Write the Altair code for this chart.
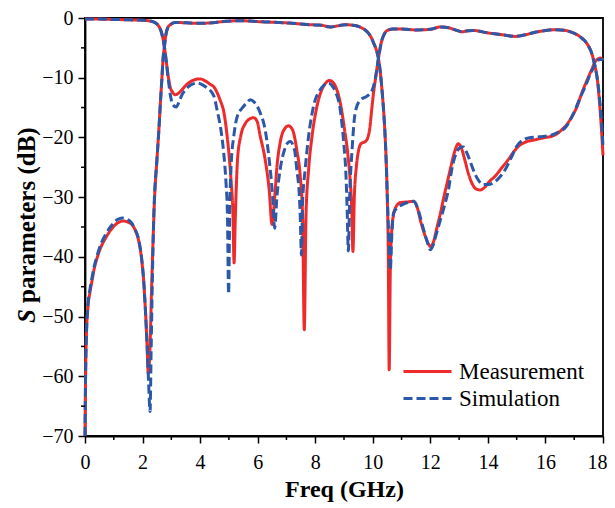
import altair as alt
import pandas as pd

# ---------------- data ----------------
# Measured S11
m11_f = [0.0, 0.5, 1.0, 1.5, 2.0, 2.25, 2.4, 2.5, 2.58, 2.65, 2.71, 2.77, 2.83, 2.9, 2.97, 3.05,
         3.14, 3.25, 3.37, 3.5, 3.65, 3.8, 4.0, 4.2, 4.35, 4.49, 4.6, 4.7, 4.83, 4.94, 5.02, 5.09,
         5.14, 5.18, 5.22, 5.26, 5.3, 5.41, 5.58, 5.72, 5.86, 5.98, 6.09, 6.26, 6.4, 6.5, 6.6,
         6.67, 6.78, 6.96, 7.07, 7.21, 7.36, 7.48, 7.56, 7.62, 7.68, 7.77, 7.89, 8.06, 8.23, 8.38,
         8.49, 8.6, 8.7, 8.87, 9.02, 9.14, 9.22, 9.27, 9.31, 9.36, 9.43, 9.51, 9.6, 9.74, 9.83,
         9.9, 9.96, 10.02, 10.09, 10.19, 10.29, 10.39, 10.5, 10.7, 11.0, 11.5, 12.0, 12.35, 12.6,
         13.0, 13.1, 13.3, 13.5, 14.0, 14.5, 14.95, 15.3, 15.64, 16.0, 16.33, 16.7, 16.92, 17.1,
         17.26, 17.4, 17.5, 17.6, 17.67, 17.74, 17.79, 17.85, 17.9, 17.95, 18.0]
m11_db = [-0.15, -0.18, -0.25, -0.3, -0.38, -0.5, -0.7, -1.0, -1.5, -2.3, -3.5, -5.2, -7.5, -10.0,
          -11.7, -12.5, -12.85, -12.6, -12.0, -11.3, -10.7, -10.35, -10.2, -10.6, -11.1, -11.6,
          -12.6, -13.8, -15.9, -19.8, -23.7, -28.2, -32.5, -41.0, -34.0, -28.0, -23.7, -19.8,
          -17.6, -16.9, -16.7, -17.3, -19.8, -23.7, -28.8, -34.6, -29.5, -24.9, -20.9, -18.4,
          -18.05, -18.7, -22.1, -26.5, -33.0, -52.2, -33.0, -25.4, -19.8, -14.8, -12.0, -10.8,
          -10.45, -10.7, -11.4, -14.2, -18.7, -23.1, -27.6, -32.1, -39.1, -29.9, -24.9, -22.1,
          -21.0, -20.7, -20.0, -18.3, -15.5, -12.8, -10.3, -7.0, -4.2, -2.8, -2.1, -1.85, -1.85,
          -2.0, -1.9, -1.5, -1.6, -2.2, -2.3, -2.15, -2.1, -2.5, -2.8, -3.08, -2.8, -2.4, -2.1,
          -1.96, -2.1, -2.41, -2.8, -3.36, -4.0, -4.75, -5.8, -7.0, -8.5, -9.8, -12.5, -15.4,
          -19.0, -23.0]

# Simulated S11
s11_f = [0.0, 0.5, 1.0, 1.5, 2.0, 2.25, 2.4, 2.5, 2.58, 2.65, 2.71, 2.77, 2.83, 2.9, 2.97, 3.05,
         3.17, 3.27, 3.37, 3.5, 3.6, 3.78, 3.9, 4.05, 4.24, 4.38, 4.48, 4.59, 4.74, 4.82, 4.9,
         4.95, 4.99, 5.03, 5.08, 5.17, 5.29, 5.46, 5.6, 5.75, 5.91, 6.09, 6.26, 6.4, 6.52, 6.59,
         6.67, 6.78, 6.93, 7.03, 7.13, 7.28, 7.36, 7.45, 7.48, 7.52, 7.56, 7.65, 7.77, 7.94, 8.17,
         8.32, 8.46, 8.58, 8.7, 8.87, 8.99, 9.07, 9.11, 9.15, 9.2, 9.28, 9.39, 9.57, 9.8, 9.97,
         10.09, 10.19, 10.29, 10.39, 10.5, 10.7, 11.0, 11.5, 12.0, 12.35, 12.6, 13.0, 13.1, 13.3,
         13.5, 14.0, 14.5, 14.95, 15.3, 15.64, 16.0, 16.33, 16.7, 16.92, 17.1, 17.26, 17.4, 17.5,
         17.6, 17.67, 17.74, 17.79, 17.85, 17.9, 17.95, 18.0]
s11_db = [-0.15, -0.18, -0.25, -0.3, -0.38, -0.5, -0.7, -1.0, -1.5, -2.3, -3.5, -5.2, -7.5, -10.5,
          -13.0, -14.5, -14.9, -14.0, -12.85, -12.0, -11.5, -11.0, -10.9, -11.1, -11.7, -12.3,
          -13.1, -15.4, -19.3, -22.6, -27.6, -33.0, -46.2, -32.0, -24.5, -19.8, -16.5, -15.1,
          -14.3, -13.7, -14.25, -15.9, -18.7, -23.7, -29.9, -35.2, -29.9, -25.4, -22.1, -21.0,
          -20.7, -22.1, -25.4, -29.9, -33.2, -39.7, -31.0, -25.4, -19.8, -14.8, -12.0, -11.2,
          -10.9, -11.3, -12.3, -15.4, -20.9, -26.5, -32.1, -39.0, -29.5, -22.1, -15.8, -13.7,
          -13.1, -12.2, -10.1, -7.0, -4.2, -2.8, -2.1, -1.85, -1.85, -2.0, -1.9, -1.5, -1.6,
          -2.2, -2.3, -2.15, -2.1, -2.5, -2.8, -3.08, -2.8, -2.4, -2.1, -1.96, -2.1, -2.41, -2.8,
          -3.36, -4.0, -4.75, -5.8, -7.0, -8.5, -9.8, -12.0, -14.5, -17.5, -21.5]

# Measured S21
m21_f = [0.0, 0.02, 0.05, 0.1, 0.17, 0.24, 0.32, 0.42, 0.55, 0.71, 0.88, 1.06, 1.2, 1.34, 1.5,
         1.63, 1.76, 1.87, 1.97, 2.04, 2.1, 2.15, 2.2, 2.26, 2.31, 2.36, 2.41, 2.5, 2.57, 2.62,
         2.67, 2.71, 2.76, 2.8, 2.89, 3.0, 3.14, 3.5, 3.9, 4.3, 4.88, 5.3, 5.69, 6.0, 6.5, 7.07,
         7.5, 7.8, 8.2, 8.52, 8.8, 9.04, 9.3, 9.5, 9.63, 9.76, 9.86, 9.95, 10.03, 10.12, 10.19,
         10.26, 10.33, 10.39, 10.44, 10.5, 10.54, 10.57, 10.61, 10.66, 10.72, 10.78, 10.96, 11.2,
         11.42, 11.55, 11.65, 11.8, 11.92, 12.02, 12.12, 12.22, 12.35, 12.47, 12.6, 12.72, 12.85,
         12.97, 13.08, 13.2, 13.32, 13.45, 13.58, 13.73, 13.9, 14.05, 14.25, 14.48, 14.71, 14.9,
         15.06, 15.3, 15.64, 16.0, 16.22, 16.4, 16.57, 16.75, 16.92, 17.1, 17.26, 17.43, 17.6,
         17.72, 17.81, 17.9, 18.0]
m21_db = [-70.0, -60.0, -53.0, -48.5, -46.0, -44.1, -42.0, -40.2, -38.4, -36.9, -35.6, -34.6,
          -34.15, -34.0, -34.2, -34.6, -35.7, -37.4, -40.5, -44.1, -49.0, -54.0, -59.5, -55.0,
          -46.0, -38.0, -31.0, -23.7, -18.5, -14.2, -10.3, -7.0, -4.8, -3.1, -1.5, -1.0, -0.75,
          -0.8, -0.9, -0.84, -0.56, -0.45, -0.5, -0.6, -0.7, -0.84, -1.0, -1.12, -1.2, -1.5,
          -1.3, -1.12, -1.2, -1.4, -1.7, -2.1, -2.6, -3.3, -4.2, -5.3, -6.6, -9.0, -12.6, -16.5,
          -20.9, -29.3, -40.0, -58.9, -42.0, -35.5, -33.0, -31.9, -30.9, -30.8, -30.7, -31.8,
          -33.8, -36.2, -37.7, -38.3, -37.3, -35.3, -32.7, -30.0, -27.3, -24.8, -22.3, -21.07,
          -21.8, -23.8, -26.0, -27.7, -28.6, -28.8, -28.3, -27.4, -26.5, -25.1, -23.7, -22.4,
          -21.5, -20.8, -20.4, -20.0, -19.8, -19.4, -18.7, -17.8, -16.5, -14.8, -12.6, -10.6,
          -8.7, -7.4, -6.9, -6.7, -7.0]

# Simulated S21
s21_f = [0.0, 0.02, 0.05, 0.1, 0.17, 0.24, 0.32, 0.42, 0.55, 0.71, 0.88, 1.06, 1.2, 1.3, 1.45,
         1.6, 1.74, 1.87, 1.97, 2.04, 2.1, 2.16, 2.21, 2.26, 2.3, 2.34, 2.39, 2.5, 2.57, 2.62,
         2.67, 2.71, 2.76, 2.8, 2.89, 3.0, 3.14, 3.5, 3.9, 4.3, 4.88, 5.3, 5.69, 6.0, 6.5, 7.07,
         7.5, 7.8, 8.2, 8.52, 8.8, 9.04, 9.3, 9.5, 9.63, 9.76, 9.86, 9.95, 10.03, 10.12, 10.19,
         10.26, 10.33, 10.39, 10.44, 10.5, 10.55, 10.61, 10.66, 10.72, 10.85, 11.01, 11.2, 11.42,
         11.6, 11.77, 11.9, 12.0, 12.1, 12.2, 12.35, 12.5, 12.64, 12.74, 12.85, 12.97, 13.08,
         13.15, 13.25, 13.37, 13.49, 13.65, 13.84, 14.0, 14.19, 14.4, 14.6, 14.8, 15.0, 15.2,
         15.41, 15.8, 16.22, 16.45, 16.68, 16.85, 17.03, 17.2, 17.38, 17.55, 17.73, 17.85, 17.96,
         18.0]
s21_db = [-70.0, -60.0, -53.0, -48.2, -45.5, -43.6, -41.6, -39.8, -37.9, -36.3, -35.0, -34.0,
          -33.6, -33.5, -33.7, -34.2, -35.4, -37.2, -40.3, -44.0, -49.0, -55.0, -61.0, -65.9,
          -55.0, -44.0, -33.2, -23.7, -18.5, -14.2, -10.3, -7.0, -4.8, -3.1, -1.5, -1.0, -0.75,
          -0.8, -0.9, -0.84, -0.56, -0.45, -0.5, -0.6, -0.7, -0.84, -1.0, -1.12, -1.2, -1.5,
          -1.3, -1.12, -1.2, -1.4, -1.7, -2.1, -2.6, -3.3, -4.2, -5.3, -6.6, -9.0, -12.6, -16.5,
          -20.9, -29.0, -36.0, -42.2, -36.5, -32.7, -31.8, -31.3, -30.9, -30.7, -32.5, -35.5,
          -37.6, -38.8, -38.0, -36.3, -33.8, -31.3, -28.5, -25.5, -23.3, -22.0, -21.6, -21.6,
          -22.4, -23.8, -25.4, -27.0, -27.9, -27.9, -27.6, -26.7, -25.4, -23.5, -21.5, -20.5,
          -20.1, -19.9, -19.6, -19.1, -18.4, -17.2, -15.4, -13.4, -11.5, -9.5, -7.8, -7.0, -6.9,
          -7.1]

series_names = ["Measurement", "Simulation"]
x_ticks = [0, 2, 4, 6, 8, 10, 12, 14, 16, 18]
x_minor = [1, 3, 5, 7, 9, 11, 13, 15, 17]
y_ticks = [-70, -60, -50, -40, -30, -20, -10, 0]
y_minor = [-65, -55, -45, -35, -25, -15, -5]

# ---------------- build tables ----------------
def table(src, curve, fs, ds):
    return pd.DataFrame({"src": src, "curve": curve, "f": fs, "db": ds})

meas = pd.concat([table("Measurement", "S11", m11_f, m11_db),
                  table("Measurement", "S21", m21_f, m21_db)], ignore_index=True)
sim = pd.concat([table("Simulation", "S11", s11_f, s11_db),
                 table("Simulation", "S21", s21_f, s21_db)], ignore_index=True)

RED = "#EE2B2B"
BLUE = "#2B58A8"
FONT = "Liberation Serif"
W, H = 518, 418
MINUS = "replace(datum.label, '-', '\u2212')"
LAST = "datum.value == 18"

x_scale = alt.Scale(domain=[0, 18], nice=False, zero=False)
y_scale = alt.Scale(domain=[-70, 0], nice=False, zero=False)
color_scale = alt.Scale(domain=series_names, range=[RED, BLUE])
dash_scale = alt.Scale(domain=series_names, range=[[1, 0], [9, 4]])

x_axis = alt.Axis(values=x_ticks, title="Freq (GHz)", grid=False, tickSize=7, tickWidth=1.5,
                  tickColor="black", domainColor="black", domainWidth=1.8, labelFont=FONT,
                  labelFontSize=20, labelColor="black", labelPadding=9, titleFont=FONT,
                  titleFontSize=24, titleFontWeight="bold", titleColor="black", titlePadding=5,
                  labelFlush=False, orient="bottom",
                  labelAlign={"condition": {"test": LAST, "value": "right"}, "value": "center"},
                  labelOffset={"condition": {"test": LAST, "value": 4}, "value": 0})
y_axis = alt.Axis(values=y_ticks, title="", grid=False, tickSize=7, tickWidth=1.5,
                  tickColor="black", domainColor="black", domainWidth=1.8, labelFont=FONT,
                  labelFontSize=20, labelColor="black", labelPadding=5, labelFlush=False,
                  labelExpr=MINUS, orient="left")

legend = alt.Legend(title=None, orient="none", legendX=317, legendY=340, symbolType="stroke",
                    symbolSize=2304, symbolStrokeWidth=3, labelFont=FONT, labelFontSize=23,
                    labelColor="black", labelOffset=6, rowPadding=0, clipHeight=27, padding=0)

def lines(data):
    return alt.Chart(data).mark_line(strokeWidth=3, interpolate="monotone").encode(
        x=alt.X("f:Q", scale=x_scale, axis=x_axis),
        y=alt.Y("db:Q", scale=y_scale, axis=y_axis),
        color=alt.Color("src:N", scale=color_scale, legend=legend),
        strokeDash=alt.StrokeDash("src:N", scale=dash_scale, legend=legend),
        detail="curve:N",
    )

minor_x_layer = alt.Chart(pd.DataFrame({"mx": x_minor})).mark_rule(
    color="black", strokeWidth=1.5).encode(
    x=alt.X("mx:Q", scale=x_scale, axis=x_axis),
    y=alt.value(H), y2=alt.value(H + 4))

minor_y_layer = alt.Chart(pd.DataFrame({"my": y_minor})).mark_rule(
    color="black", strokeWidth=1.5).encode(
    y=alt.Y("my:Q", scale=y_scale, axis=y_axis),
    x=alt.value(-4), x2=alt.value(0))

title_s = alt.Chart(pd.DataFrame({"t": ["S"]})).mark_text(
    font=FONT, fontSize=25, fontWeight="bold", fontStyle="italic", angle=270,
    align="left", baseline="middle", color="black").encode(
    text="t:N", x=alt.value(-58), y=alt.value(305))

title_rest = alt.Chart(pd.DataFrame({"t": ["parameters (dB)"]})).mark_text(
    font=FONT, fontSize=25, fontWeight="bold", angle=270,
    align="left", baseline="middle", color="black").encode(
    text="t:N", x=alt.value(-58), y=alt.value(285))

chart = alt.layer(
    lines(meas), lines(sim), minor_x_layer, minor_y_layer, title_s, title_rest
).properties(
    width=W, height=H,
    padding={"left": 77, "top": 10, "right": 4, "bottom": 70},
    autosize=alt.AutoSizeParams(type="none"),
).configure_view(
    stroke="black", strokeWidth=1.8
)

chart.save("out.html", embed_options={"renderer": "svg", "actions": False})
